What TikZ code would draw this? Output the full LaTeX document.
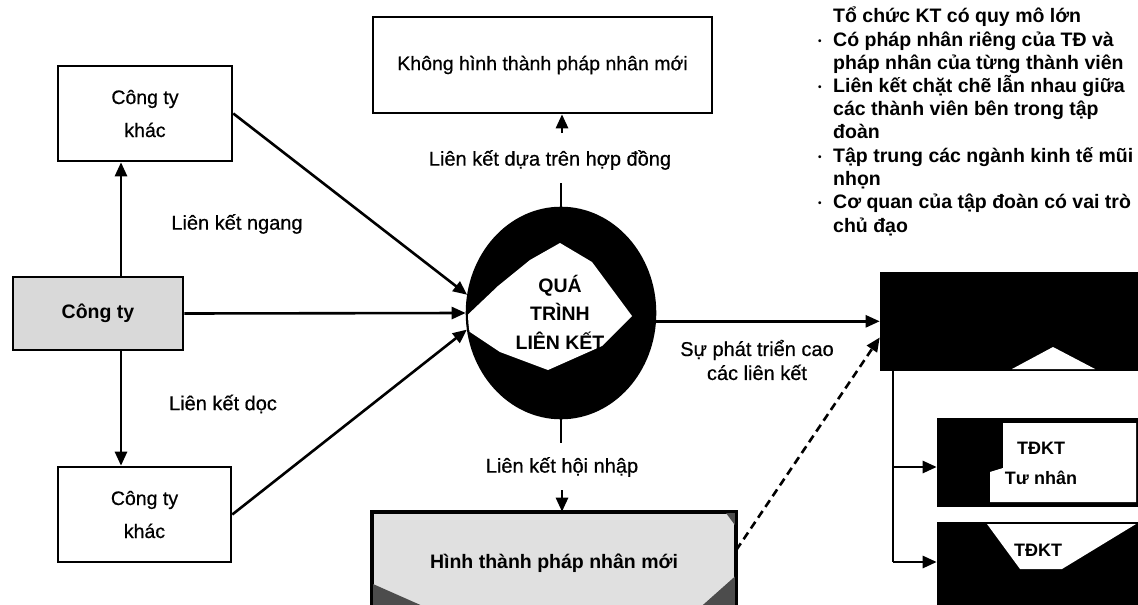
\documentclass[tikz,border=0pt]{standalone}
\usepackage{fontspec}
\setmainfont{Liberation Sans}
\newfontfamily\labfont{Liberation Sans}[FakeBold=0.6]
\usetikzlibrary{shapes.geometric,arrows.meta}
\begin{document}
\begin{tikzpicture}[x=1pt,y=-1pt,
  lw/.style={line width=2.6pt},
  arr/.style={lw,-{Triangle[length=14pt,width=12pt]}},
  box/.style={draw,lw,rectangle,inner sep=0pt,align=center,font=\labfont\fontsize{19.5}{33}\selectfont},
  blkbox/.style={draw,lw,rectangle,inner sep=0pt,fill=black},
  lbl/.style={font=\labfont\fontsize{20}{24}\selectfont,inner sep=0pt,align=center},
  rtxt/.style={anchor=base west,inner sep=0pt,font=\bfseries\fontsize{19.5}{22}\selectfont},
  bul/.style={anchor=base west,inner sep=0pt,font=\bfseries\fontsize{10}{10}\selectfont}]
\useasboundingbox (0,0) rectangle (1138,605);
\clip (0,0) rectangle (1138,605);
\fill[white] (0,0) rectangle (1138,605);

% left boxes
\node[box,minimum width=174pt,minimum height=95pt] (ctk1) at (145,113.5) {Công ty\\khác};
\node[box,minimum width=170pt,minimum height=73pt,fill=black!15,font=\bfseries\fontsize{19.5}{24}\selectfont] (cty) at (98,313.5) {Công ty};
\node[box,minimum width=173pt,minimum height=95pt] (ctk2) at (144.5,514.5) {Công ty\\khác};

% top box
\node[box,minimum width=339pt,minimum height=96pt] (top) at (542.5,65) {Không hình thành pháp nhân mới};

% ellipse
\node[draw,lw,ellipse,fill=black,minimum width=188pt,minimum height=210pt,inner sep=0pt] (ell) at (561,313) {};
\begin{scope}
  \clip (561,313) ellipse [x radius=93pt,y radius=104pt];
  \fill[white] (560,243) -- (592,262) -- (632,316) -- (602,346) -- (548,370) -- (500,352) -- (458,324) -- (498,286) -- (530,260) -- cycle;
\end{scope}
\node[font=\bfseries\fontsize{19.5}{28.5}\selectfont,align=center,inner sep=0pt] (elltxt) at (560,312) {QUÁ\\TRÌNH\\LIÊN KẾT};

% bottom box
\node[box,minimum width=362pt,minimum height=100pt,fill=black!12] (bot) at (554,563) {};
\begin{scope}
  \clip (bot.south west) rectangle (bot.north east);
  \fill[black!70] (373,584) -- (425,607) -- (373,620) -- cycle;
  \fill[black!70] (740,572) -- (740,620) -- (686,620) -- cycle;
  \fill[black!70] (740,513) -- (740,532) -- (726,513) -- cycle;
\end{scope}
\draw[lw] (bot.south west) rectangle (bot.north east);
\node[font=\bfseries\fontsize{19.5}{24}\selectfont,inner sep=0pt] (bottxt) at (554,563) {Hình thành pháp nhân mới};

% right black boxes
\node[blkbox,minimum width=269pt,minimum height=97pt] (blk1) at (1015.5,321.5) {};
\fill[white] (1012,369) -- (1053,347) -- (1095,369) -- cycle;
\node[blkbox,minimum width=212pt,minimum height=87pt] (blk2) at (1044,462.5) {};
\fill[white] (1003,423) -- (1136,423) -- (1136,502) -- (990,502) -- (990,472) -- (1003,468) -- cycle;
\node[font=\bfseries\fontsize{18}{30}\selectfont,align=center,inner sep=0pt] (blk2txt) at (1041,463) {TĐKT\\Tư nhân};
\node[blkbox,minimum width=212pt,minimum height=97pt] (blk3) at (1044,571.5) {};
\fill[white] (987,524) -- (1136,524) -- (1062,569) -- (1020,569) -- cycle;
\node[font=\bfseries\fontsize{18}{24}\selectfont,inner sep=0pt] (blk3txt) at (1038,550) {TĐKT};

% labels
\node[lbl] (lngang) at (237,224) {Liên kết ngang};
\node[lbl] (ldoc) at (223,404) {Liên kết dọc};
\node[lbl] (lhd) at (550,160) {Liên kết dựa trên hợp đồng};
\node[lbl] (lhn) at (562,467) {Liên kết hội nhập};
\node[lbl] (lpt) at (757,360) {Sự phát triển cao\\các liên kết};

% connectors
\draw[arr] ([xshift=23pt]cty.north) -- ([xshift=23pt]cty.north |- ctk1.south);
\draw[arr] ([xshift=23pt]cty.south) -- ([xshift=23pt]cty.south |- ctk2.north);
\draw[arr] (ctk1.east) -- (ell.169);
\draw[arr] (cty.east) -- (ell.west);
\draw[arr] (ctk2.east) -- (ell.190);

\coordinate (t1) at (562,183);
\coordinate (t2) at (562,133);
\draw[lw] (ell.north) -- (ell.north |- t1);
\draw[arr] (t2) -- (t2 |- top.south);
\coordinate (b1) at (562,443);
\coordinate (b2) at (562,490);
\draw[lw] (ell.south) -- (ell.south |- b1);
\draw[arr] (b2) -- (b2 |- bot.north);

\draw[arr] (ell.-5) -- (blk1.west |- ell.-5);
\draw[arr,dash pattern=on 8pt off 5pt] ([yshift=13pt]bot.east) -- ([yshift=-16pt]blk1.west);

\coordinate (br2) at (893,467);
\coordinate (br3) at (893,562);
\draw[lw] (blk1.south -| br2) -- (br3);
\draw[arr] (br2) -- (br2 -| blk2.west);
\draw[arr] (br3) -- (br3 -| blk3.west);

% right text block
\node[rtxt] (r1) at (833,22) {Tổ chức KT có quy mô lớn};
\node[rtxt] (r2) at (833,46) {Có pháp nhân riêng của TĐ và};
\node[rtxt] (r3) at (833,69) {pháp nhân của từng thành viên};
\node[rtxt] (r4) at (833,92.5) {Liên kết chặt chẽ lẫn nhau giữa};
\node[rtxt] (r5) at (833,115.5) {các thành viên bên trong tập};
\node[rtxt] (r6) at (833,138.5) {đoàn};
\node[rtxt] (r7) at (833,162) {Tập trung các ngành kinh tế mũi};
\node[rtxt] (r8) at (833,185) {nhọn};
\node[rtxt] (r9) at (833,208.5) {Cơ quan của tập đoàn có vai trò};
\node[rtxt] (r10) at (833,232) {chủ đạo};
\node[bul] (u1) at (818,44) {•};
\node[bul] (u2) at (818,90.5) {•};
\node[bul] (u3) at (818,160) {•};
\node[bul] (u4) at (818,206.5) {•};
\end{tikzpicture}
\end{document}
